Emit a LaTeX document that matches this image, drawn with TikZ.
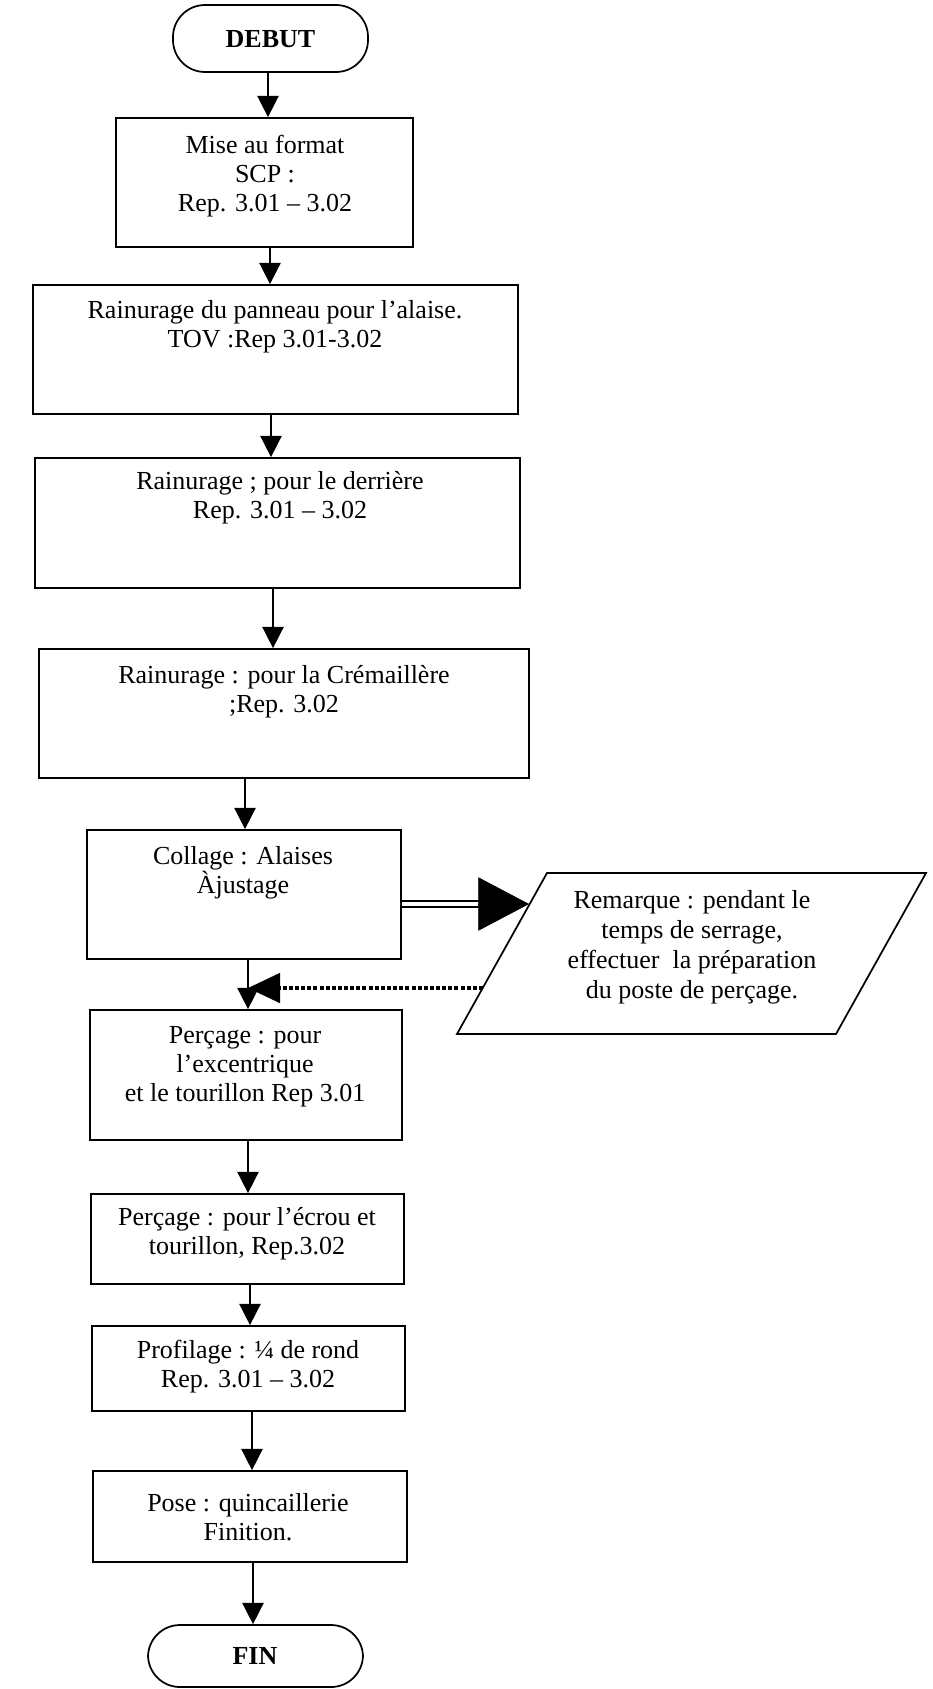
\documentclass[tikz,border=0pt]{standalone}
\usepackage{fontspec}
\setmainfont{Liberation Serif}
\usetikzlibrary{arrows.meta,fit,calc}
\begin{document}
\begin{tikzpicture}[x=0.75pt,y=-0.75pt,
  box/.style={draw, line width=1.3pt, inner sep=0pt},
  term/.style={draw, line width=1.3pt, inner sep=0pt, rounded corners=24pt},
  txt/.style={align=center, inner sep=0pt, font=\fontsize{19.5}{21.75}\selectfont},
  ttxt/.style={align=center, inner sep=0pt, font=\fontsize{19.5}{21.75}\selectfont\bfseries},
  arr/.style={line width=1.2pt, -{Triangle[length=16pt,width=16pt]}},
  dbl/.style={line width=1.4pt, double distance=3pt},
  bigtip/.style={line width=0.4pt, -{Triangle[length=38pt,width=40pt]}},
  dotarr/.style={line width=3pt, dash pattern=on 3pt off 1.6pt, -{Triangle[length=24pt,width=22pt]}},
  para/.style={draw, line width=1.3pt, line join=miter}
]
\fill[white] (0,0) rectangle (932,1689);
\useasboundingbox (0,0) rectangle (932,1689);

% terminals
\node[term, fit={(173,5) (368,72)}] (deb) {};
\node[ttxt] (tdeb) at (270.5,39) {DEBUT};
\node[term, fit={(148,1625) (363,1687)}] (fin) {};
\node[ttxt] (tfin) at (255,1656) {FIN};

% process boxes
\node[box, fit={(116,118) (413,247)}] (b1) {};
\node[box, fit={(33,285) (518,414)}] (b2) {};
\node[box, fit={(35,458) (520,588)}] (b3) {};
\node[box, fit={(39,649) (529,778)}] (b4) {};
\node[box, fit={(87,830) (401,959)}] (b5) {};
\node[box, fit={(90,1010) (402,1140)}] (b6) {};
\node[box, fit={(91,1194) (404,1284)}] (b7) {};
\node[box, fit={(92,1326) (405,1411)}] (b8) {};
\node[box, fit={(93,1471) (407,1562)}] (b9) {};

% texts
\node[txt] (t1) at (265,176) {Mise au format\\SCP :\\Rep. 3.01 – 3.02};
\node[txt] (t2) at (275,327) {Rainurage du panneau pour l’alaise.\\TOV :Rep 3.01-3.02};
\node[txt] (t3) at (280,498) {Rainurage ; pour le derrière\\Rep. 3.01 – 3.02};
\node[txt] (t4) at (284,692) {Rainurage : pour la Crémaillère\\;Rep. 3.02};
\node[txt] (t5) at (243,873) {Collage : Alaises\\Àjustage};
\node[txt] (t6) at (245,1067) {Perçage : pour\\l’excentrique\\et le tourillon Rep 3.01};
\node[txt] (t7) at (247,1234) {Perçage : pour l’écrou et\\tourillon, Rep.3.02};
\node[txt] (t8) at (248,1367) {Profilage : ¼ de rond\\Rep. 3.01 – 3.02};
\node[txt] (t9) at (248,1517) {Pose : quincaillerie\\Finition.};

% remark parallelogram
\coordinate (pTL) at (547,873);
\coordinate (pTR) at (926,873);
\coordinate (pBR) at (836,1034);
\coordinate (pBL) at (457,1034);
\draw[para] (pTL) -- (pTR) -- (pBR) -- (pBL) -- cycle;
\node[txt, font=\fontsize{19.5}{22.5}\selectfont] (tr) at (692,947) {Remarque : pendant le\\temps de serrage,\\effectuer\ \ la préparation\\du poste de perçage.};

% arrow columns
\coordinate (x0) at (268,0);
\coordinate (x1) at (270,0);
\coordinate (x2) at (271,0);
\coordinate (x3) at (273,0);
\coordinate (x4) at (245,0);
\coordinate (x5) at (248,0);
\coordinate (x6) at (248,0);
\coordinate (x7) at (250,0);
\coordinate (x8) at (252,0);
\coordinate (x9) at (253,0);

\draw[arr] (deb.south -| x0) -- (b1.north -| x0);
\draw[arr] (b1.south -| x1) -- (b2.north -| x1);
\draw[arr] (b2.south -| x2) -- (b3.north -| x2);
\draw[arr] (b3.south -| x3) -- (b4.north -| x3);
\draw[arr] (b4.south -| x4) -- (b5.north -| x4);
\draw[arr] (b5.south -| x5) -- (b6.north -| x5);
\draw[arr] (b6.south -| x6) -- (b7.north -| x6);
\draw[arr] (b7.south -| x7) -- (b8.north -| x7);
\draw[arr] (b8.south -| x8) -- (b9.north -| x8);
\draw[arr] (b9.south -| x9) -- (fin.north -| x9);

% double arrow to remark
\coordinate (kT) at (529,904);
\coordinate (kB) at (479,904);
\draw[dbl] (b5.east |- kT) -- (kB);
\draw[bigtip] (kB) -- (kT);

% dotted return arrow
\coordinate (dS) at (483,988);
\draw[dotarr] (dS) -- (dS -| x5);
\end{tikzpicture}
\end{document}
